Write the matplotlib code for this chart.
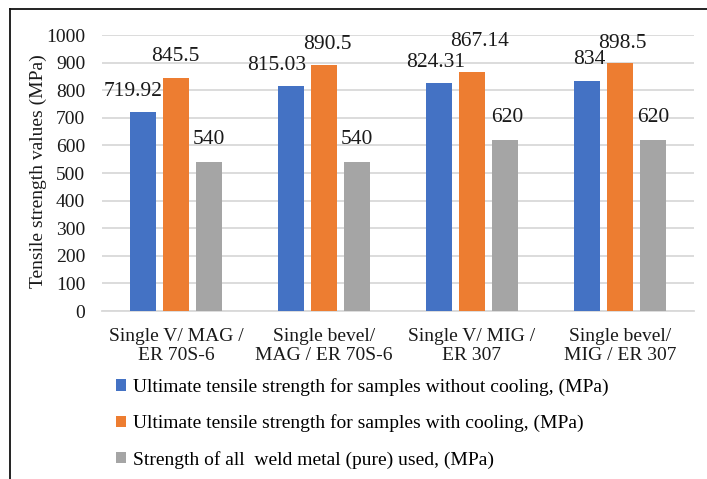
import matplotlib
matplotlib.use("Agg")
import matplotlib.pyplot as plt
from matplotlib.lines import Line2D
from matplotlib.patches import Patch
import numpy as np

categories = ["Single V/ MAG /\nER 70S-6", "Single bevel/\nMAG / ER 70S-6",
              "Single V/ MIG /\nER 307", "Single bevel/\nMIG / ER 307"]
uts_without_cooling = [719.92, 815.03, 824.31, 834]
uts_with_cooling = [845.5, 890.5, 867.14, 898.5]
weld_metal_strength = [540, 540, 620, 620]
series_names = ["Ultimate tensile strength for samples without cooling, (MPa)",
                "Ultimate tensile strength for samples with cooling, (MPa)",
                "Strength of all  weld metal (pure) used, (MPa)"]
label_texts = [["719.92", "815.03", "824.31", "834"],
               ["845.5", "890.5", "867.14", "898.5"],
               ["540", "540", "620", "620"]]
y_ticks = [0, 100, 200, 300, 400, 500, 600, 700, 800, 900, 1000]

colors = ["#4472C4", "#ED7D31", "#A5A5A5"]
# label offsets in pixels (layout only)
label_dx = [[-10, -14, -4, 2], [-1, 3, 8, 2], [0, 0, 2, 0]]
label_dy = [[21, 21, 21, 21], [21, 21, 30, 20], [22, 22, 22, 22]]

plt.rcParams['font.family'] = ['Liberation Serif', 'DejaVu Serif']

W, H = 707, 479
FS = 14
fig = plt.figure(figsize=(W / 100, H / 100), dpi=100)
ax = fig.add_axes([102 / W, 1 - 311 / H, (694 - 102) / W, (311 - 35) / H])

x = np.arange(len(categories))
width = 0.172
offsets = [-0.222, 0.0, 0.222]
all_series = [uts_without_cooling, uts_with_cooling, weld_metal_strength]
for i, (vals, col) in enumerate(zip(all_series, colors)):
    bars = ax.bar(x + offsets[i], vals, width, color=col, label=series_names[i], zorder=3)
    for j, b in enumerate(bars):
        ax.annotate(label_texts[i][j], (b.get_x() + b.get_width() / 2, b.get_height()),
                    xytext=(label_dx[i][j], label_dy[i][j]), textcoords='offset pixels',
                    ha='center', va='center', fontsize=15.5, color='#1a1a1a')

ax.set_xlim(-0.5, len(categories) - 0.5)
ax.set_ylim(0, 1000)
ax.set_yticks(y_ticks)
ax.set_yticklabels([str(t) for t in y_ticks], fontsize=FS)
ax.set_xticks(x)
ax.set_xticklabels(categories, fontsize=FS, linespacing=1.18)
ax.tick_params(axis='both', length=0, colors='#1a1a1a')
ax.tick_params(axis='y', pad=12)
ax.tick_params(axis='x', pad=12)
ax.yaxis.grid(True, color='#D9D9D9', linewidth=1.3, zorder=0)
for s in ['top', 'right', 'left']:
    ax.spines[s].set_visible(False)
ax.spines['bottom'].set_color('#D9D9D9')
ax.spines['bottom'].set_linewidth(1.3)
ax.set_ylabel("Tensile strength values (MPa)", fontsize=FS, color='#1a1a1a')
ax.yaxis.set_label_coords((47 - 102) / (694 - 102), 0.505)

handles = [Patch(facecolor=c, edgecolor='none') for c in colors]
fig.legend(handles, series_names, loc='upper left', bbox_to_anchor=(116 / W, 1 - 378 / H),
           frameon=False, fontsize=FS, borderpad=0, borderaxespad=0,
           handlelength=0.5, handleheight=0.5, handletextpad=0.35, labelspacing=0.95)

# outer frame (top and left only)
fig.add_artist(Line2D([10 / W, 1], [1 - 9 / H, 1 - 9 / H], transform=fig.transFigure,
                      color='#111111', linewidth=1.3))
fig.add_artist(Line2D([10 / W, 10 / W], [0, 1 - 9 / H], transform=fig.transFigure,
                      color='#111111', linewidth=1.3))

fig.savefig("out.png", dpi=100)
